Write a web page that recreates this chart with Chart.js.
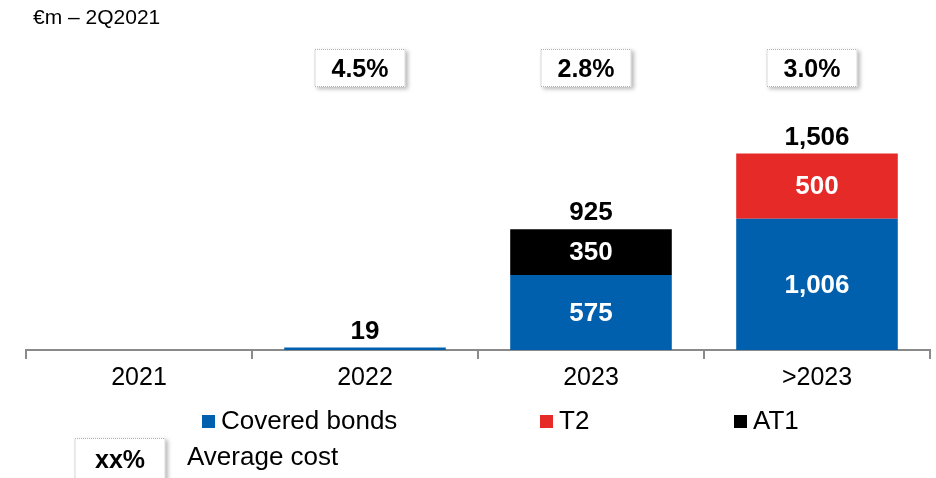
<!DOCTYPE html>
<html>
<head>
<meta charset="utf-8">
<script src="https://cdn.jsdelivr.net/npm/chart.js@4/dist/chart.umd.min.js"></script>
<style>
  html, body { margin: 0; padding: 0; background: #fff; }
  #wrap { position: relative; width: 936px; height: 478px; }
  #title { position: absolute; left: 33px; top: 5px; font: 21px "Liberation Sans", Arial, sans-serif; color: #000; }
</style>
</head>
<body>
<div id="wrap">
  <div id="title">€m – 2Q2021</div>
  <canvas id="maturityChart" width="936" height="478"></canvas>
</div>
<script>
// maturity buckets and amounts (€m)
const years = ['2021', '2022', '2023', '>2023'];
const coveredBonds = [null, 19, 575, 1006];
const t2 = [null, null, null, 500];
const at1 = [null, null, 350, null];
const totals = [null, 19, 925, 1506];
const avgCost = [null, '4.5%', '2.8%', '3.0%'];

const BLUE = '#0060AE';
const RED = '#E52A28';
const BLACK = '#000000';
const FONT = '"Liberation Sans", Arial, sans-serif';

const fmt = v => v.toLocaleString('en-US');

// draws a dotted box with a soft shadow and bold text in the middle
function costBox(ctx, cx, cy, w, h, text) {
  ctx.save();
  ctx.shadowColor = 'rgba(0,0,0,0.28)';
  ctx.shadowBlur = 4;
  ctx.shadowOffsetX = 2;
  ctx.shadowOffsetY = 2;
  ctx.fillStyle = '#fff';
  ctx.fillRect(cx - w / 2, cy - h / 2, w, h);
  ctx.restore();
  ctx.save();
  ctx.strokeStyle = '#b0b0b0';
  ctx.lineWidth = 1;
  ctx.setLineDash([1, 1]);
  ctx.strokeRect(cx - w / 2 + 0.5, cy - h / 2 + 0.5, w - 1, h - 1);
  ctx.setLineDash([]);
  ctx.fillStyle = '#000';
  ctx.font = 'bold 25px ' + FONT;
  ctx.textAlign = 'center';
  ctx.textBaseline = 'middle';
  ctx.fillText(text, cx, cy + 2);
  ctx.restore();
}

// labels inside segments, totals on top, cost boxes, legend
const extras = {
  id: 'extras',
  afterDatasetsDraw(chart) {
    const ctx = chart.ctx;
    const xs = chart.scales.x;
    const ys = chart.scales.y;

    ctx.save();
    ctx.font = 'bold 26px ' + FONT;
    ctx.textAlign = 'center';
    ctx.textBaseline = 'middle';
    ctx.fillStyle = '#fff';
    chart.data.datasets.forEach((ds, di) => {
      chart.getDatasetMeta(di).data.forEach((bar, i) => {
        const v = ds.data[i];
        if (v == null || v < 100) return;
        ctx.fillText(fmt(v), bar.x, (bar.y + bar.base) / 2 + 1);
      });
    });

    ctx.fillStyle = '#000';
    ctx.textBaseline = 'alphabetic';
    totals.forEach((t, i) => {
      if (t == null) return;
      ctx.fillText(fmt(t), xs.getPixelForValue(i), ys.getPixelForValue(t) - 9);
    });
    ctx.restore();

    avgCost.forEach((c, i) => {
      if (c == null) return;
      costBox(ctx, xs.getPixelForValue(i) - 5, 68, 91, 38, c);
    });

    // legend row
    ctx.save();
    ctx.font = '26px ' + FONT;
    ctx.textBaseline = 'middle';
    ctx.textAlign = 'left';
    const legendX = [202, 540, 734];
    chart.data.datasets.forEach((ds, di) => {
      const x = legendX[di];
      ctx.fillStyle = ds.backgroundColor;
      ctx.fillRect(x, 415, 13, 13);
      ctx.fillStyle = '#000';
      ctx.fillText(ds.label, x + 19, 422);
    });
    ctx.fillText('Average cost', 187, 458);
    ctx.restore();

    costBox(ctx, 120, 459, 91, 42, 'xx%');
  }
};

new Chart(document.getElementById('maturityChart'), {
  type: 'bar',
  data: {
    labels: years,
    datasets: [
      { label: 'Covered bonds', data: coveredBonds, backgroundColor: BLUE },
      { label: 'T2', data: t2, backgroundColor: RED },
      { label: 'AT1', data: at1, backgroundColor: BLACK }
    ]
  },
  options: {
    responsive: false,
    animation: false,
    layout: { padding: { top: 37, left: 26, right: 6, bottom: 81 } },
    datasets: { bar: { categoryPercentage: 1, barPercentage: 0.715 } },
    plugins: { legend: { display: false }, tooltip: { enabled: false } },
    scales: {
      x: {
        stacked: true,
        grid: { offset: true, drawOnChartArea: false, drawTicks: true, tickLength: 9, color: '#8a8a8a', lineWidth: 2 },
        border: { color: '#8a8a8a', width: 2 },
        ticks: { color: '#000', padding: 4, font: { family: FONT, size: 25 } }
      },
      y: {
        stacked: true,
        display: false,
        min: 0,
        max: 2400
      }
    }
  },
  plugins: [extras]
});
</script>
</body>
</html>
